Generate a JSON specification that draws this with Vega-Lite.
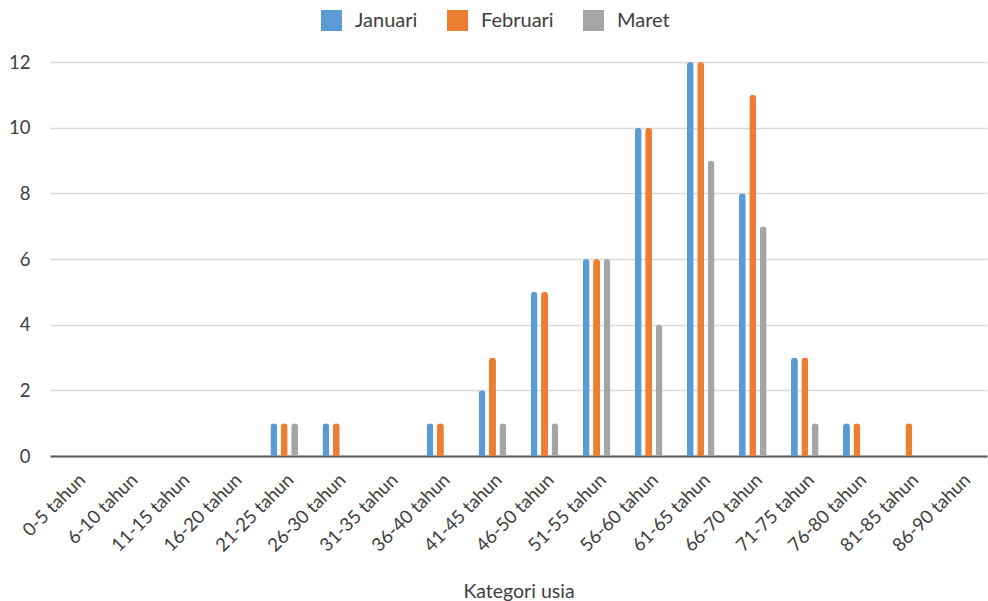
{
  "$schema": "https://vega.github.io/schema/vega-lite/v6.json",
  "width": 937,
  "height": 394,
  "padding": {"left": 50, "top": 62, "right": 1, "bottom": 145},
  "autosize": {"type": "none"},
  "background": "white",
  "config": {
    "font": "Lato",
    "view": {"stroke": null},
    "axis": {"labelFont": "Lato", "titleFont": "Lato", "labelColor": "#404040", "titleColor": "#404040"}
  },
  "data": {
    "values": [
      {"usia": "0-5 tahun", "bulan": "Januari", "jumlah": 0},
      {"usia": "0-5 tahun", "bulan": "Februari", "jumlah": 0},
      {"usia": "0-5 tahun", "bulan": "Maret", "jumlah": 0},
      {"usia": "6-10 tahun", "bulan": "Januari", "jumlah": 0},
      {"usia": "6-10 tahun", "bulan": "Februari", "jumlah": 0},
      {"usia": "6-10 tahun", "bulan": "Maret", "jumlah": 0},
      {"usia": "11-15 tahun", "bulan": "Januari", "jumlah": 0},
      {"usia": "11-15 tahun", "bulan": "Februari", "jumlah": 0},
      {"usia": "11-15 tahun", "bulan": "Maret", "jumlah": 0},
      {"usia": "16-20 tahun", "bulan": "Januari", "jumlah": 0},
      {"usia": "16-20 tahun", "bulan": "Februari", "jumlah": 0},
      {"usia": "16-20 tahun", "bulan": "Maret", "jumlah": 0},
      {"usia": "21-25 tahun", "bulan": "Januari", "jumlah": 1},
      {"usia": "21-25 tahun", "bulan": "Februari", "jumlah": 1},
      {"usia": "21-25 tahun", "bulan": "Maret", "jumlah": 1},
      {"usia": "26-30 tahun", "bulan": "Januari", "jumlah": 1},
      {"usia": "26-30 tahun", "bulan": "Februari", "jumlah": 1},
      {"usia": "26-30 tahun", "bulan": "Maret", "jumlah": 0},
      {"usia": "31-35 tahun", "bulan": "Januari", "jumlah": 0},
      {"usia": "31-35 tahun", "bulan": "Februari", "jumlah": 0},
      {"usia": "31-35 tahun", "bulan": "Maret", "jumlah": 0},
      {"usia": "36-40 tahun", "bulan": "Januari", "jumlah": 1},
      {"usia": "36-40 tahun", "bulan": "Februari", "jumlah": 1},
      {"usia": "36-40 tahun", "bulan": "Maret", "jumlah": 0},
      {"usia": "41-45 tahun", "bulan": "Januari", "jumlah": 2},
      {"usia": "41-45 tahun", "bulan": "Februari", "jumlah": 3},
      {"usia": "41-45 tahun", "bulan": "Maret", "jumlah": 1},
      {"usia": "46-50 tahun", "bulan": "Januari", "jumlah": 5},
      {"usia": "46-50 tahun", "bulan": "Februari", "jumlah": 5},
      {"usia": "46-50 tahun", "bulan": "Maret", "jumlah": 1},
      {"usia": "51-55 tahun", "bulan": "Januari", "jumlah": 6},
      {"usia": "51-55 tahun", "bulan": "Februari", "jumlah": 6},
      {"usia": "51-55 tahun", "bulan": "Maret", "jumlah": 6},
      {"usia": "56-60 tahun", "bulan": "Januari", "jumlah": 10},
      {"usia": "56-60 tahun", "bulan": "Februari", "jumlah": 10},
      {"usia": "56-60 tahun", "bulan": "Maret", "jumlah": 4},
      {"usia": "61-65 tahun", "bulan": "Januari", "jumlah": 12},
      {"usia": "61-65 tahun", "bulan": "Februari", "jumlah": 12},
      {"usia": "61-65 tahun", "bulan": "Maret", "jumlah": 9},
      {"usia": "66-70 tahun", "bulan": "Januari", "jumlah": 8},
      {"usia": "66-70 tahun", "bulan": "Februari", "jumlah": 11},
      {"usia": "66-70 tahun", "bulan": "Maret", "jumlah": 7},
      {"usia": "71-75 tahun", "bulan": "Januari", "jumlah": 3},
      {"usia": "71-75 tahun", "bulan": "Februari", "jumlah": 3},
      {"usia": "71-75 tahun", "bulan": "Maret", "jumlah": 1},
      {"usia": "76-80 tahun", "bulan": "Januari", "jumlah": 1},
      {"usia": "76-80 tahun", "bulan": "Februari", "jumlah": 1},
      {"usia": "76-80 tahun", "bulan": "Maret", "jumlah": 0},
      {"usia": "81-85 tahun", "bulan": "Januari", "jumlah": 0},
      {"usia": "81-85 tahun", "bulan": "Februari", "jumlah": 1},
      {"usia": "81-85 tahun", "bulan": "Maret", "jumlah": 0},
      {"usia": "86-90 tahun", "bulan": "Januari", "jumlah": 0},
      {"usia": "86-90 tahun", "bulan": "Februari", "jumlah": 0},
      {"usia": "86-90 tahun", "bulan": "Maret", "jumlah": 0}
    ]
  },
  "mark": {"type": "bar", "cornerRadiusTopLeft": 3.5, "cornerRadiusTopRight": 3.5},
  "encoding": {
    "x": {
      "field": "usia",
      "type": "nominal",
      "sort": null,
      "scale": {"paddingInner": 0.4, "paddingOuter": 0.2},
      "axis": {
        "title": "Kategori usia",
        "titleFontSize": 19.5,
        "titleFontWeight": "normal",
        "titlePadding": 28,
        "labelAngle": -45,
        "labelFontSize": 18.5,
        "labelPadding": 14,
        "ticks": false,
        "domainColor": "#595959",
        "domainWidth": 2,
        "grid": false
      }
    },
    "xOffset": {
      "field": "bulan",
      "type": "nominal",
      "sort": ["Januari", "Februari", "Maret"],
      "scale": {"paddingInner": 0.33, "paddingOuter": 0.165}
    },
    "y": {
      "field": "jumlah",
      "type": "quantitative",
      "scale": {"domain": [0, 12]},
      "axis": {
        "title": null,
        "values": [0, 2, 4, 6, 8, 10, 12],
        "labelFontSize": 18.5,
        "labelPadding": 20,
        "ticks": false,
        "domain": false,
        "gridColor": "#d9d9d9",
        "gridWidth": 1.5
      }
    },
    "color": {
      "field": "bulan",
      "type": "nominal",
      "sort": ["Januari", "Februari", "Maret"],
      "scale": {"domain": ["Januari", "Februari", "Maret"], "range": ["#5B9BD5", "#ED7D31", "#A5A5A5"]},
      "legend": {
        "title": null,
        "orient": "none",
        "direction": "horizontal",
        "legendX": 271,
        "legendY": -52,
        "symbolType": "square",
        "symbolSize": 441,
        "symbolStrokeWidth": 0,
        "symbolOpacity": 1,
        "labelFontSize": 20,
        "labelColor": "#404040",
        "labelOffset": 13,
        "columnPadding": 29
      }
    }
  }
}
